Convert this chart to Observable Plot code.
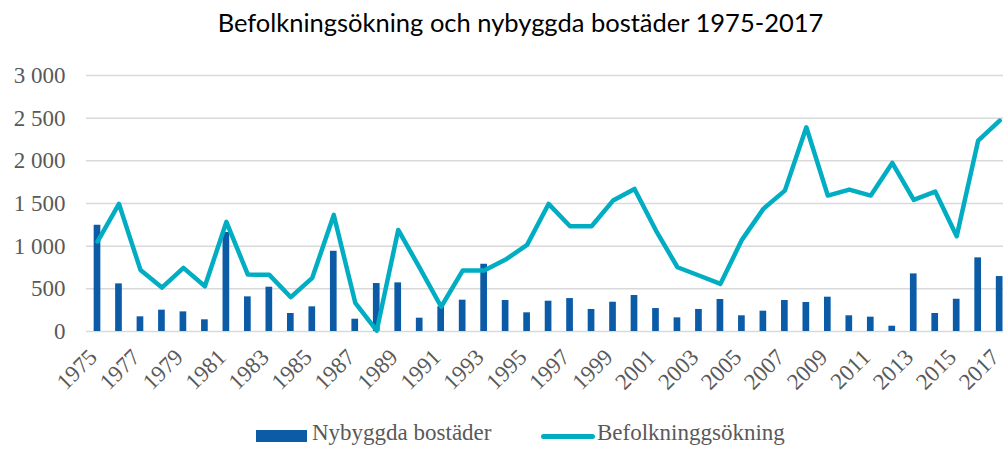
<!DOCTYPE html>
<html>
<head>
<meta charset="utf-8">
<script src="https://cdn.jsdelivr.net/npm/d3@7"></script>
<script src="https://cdn.jsdelivr.net/npm/@observablehq/plot@0.6"></script>
<style>
  body { margin: 0; background: #fff; width: 1003px; height: 449px; overflow: hidden; }
  #title { position: relative; height: 45px; }
  #title span { position: absolute; left: 38px; right: 0; top: 7px; text-align: center;
    font-family: Lato, "Open Sans", sans-serif; font-size: 25.5px; color: #000; white-space: nowrap; }
  #legend { position: relative; height: 49px; font-family: "Liberation Serif", "DejaVu Serif", serif;
    font-size: 23px; color: #595959; }
  #legend .sw1 { position: absolute; left: 256px; top: 30px; width: 51px; height: 12px; background: #0b5ba7; }
  #legend .sw2 { position: absolute; left: 541px; top: 34px; width: 54px; height: 5px; border-radius: 3px; background: #00adc2; }
  #legend .t1 { position: absolute; left: 312px; top: 20px; white-space: nowrap; }
  #legend .t2 { position: absolute; left: 597px; top: 20px; white-space: nowrap; }
</style>
</head>
<body>
<div id="title"><span>Befolkningsökning och nybyggda bostäder 1975-2017</span></div>
<div id="chart"></div>
<div id="legend">
  <div class="sw1"></div><div class="t1">Nybyggda bostäder</div>
  <div class="sw2"></div><div class="t2">Befolkninggsökning</div>
</div>
<script>
const years = d3.range(1975, 2018);
const nybyggda = [1245, 558, 172, 250, 230, 137, 1160, 406, 519, 211, 289, 940, 144, 562, 570,
  156, 290, 367, 788, 363, 219, 355, 386, 258, 343, 422, 269, 160, 258, 375,
  184, 238, 363, 340, 402, 184, 168, 62, 675, 211, 378, 863, 644];
const befolkning = [1054, 1495, 722, 515, 746, 530, 1284, 667, 664, 402, 629, 1366, 336, 10, 1190,
  746, 290, 714, 714, 843, 1015, 1495, 1233, 1233, 1534, 1671, 1183, 753, 656, 558,
  1074, 1437, 1651, 2393, 1593, 1663, 1593, 1975, 1542, 1640, 1116, 2237, 2471];
const yTicks = [0, 500, 1000, 1500, 2000, 2500, 3000];
const xLabels = years.filter(y => (y - 1975) % 2 === 0);

const data = years.map((y, i) => ({year: y, bost: nybyggda[i], bef: befolkning[i]}));
const fmt = d => d3.format(",")(d).replace(/,/g, "\u00a0");
const serif = "'Liberation Serif', 'DejaVu Serif', serif";

const chart = Plot.plot({
  width: 1003,
  height: 355,
  marginTop: 30,
  marginBottom: 69,
  marginLeft: 86,
  marginRight: 0,
  style: {fontFamily: serif, background: "#fff", overflow: "hidden"},
  x: {type: "band", domain: years, range: [86.26, 1009.9], padding: 0, round: false, axis: null},
  y: {domain: [0, 3000], axis: null},
  marks: [
    Plot.gridY(yTicks, {stroke: "#d9d9d9", strokeOpacity: 1, strokeWidth: 1.5}),
    Plot.axisY(yTicks, {tickSize: 0, tickPadding: 21, tickFormat: fmt, fontSize: 23, fill: "#595959", fontFamily: serif}),
    Plot.barY(data, {x: "year", y: "bost", fill: "#0b5ba7", insetLeft: 7.4, insetRight: 7.4}),
    Plot.line(data, {x: "year", y: "bef", stroke: "#00adc2", strokeWidth: 4.5, strokeLinejoin: "round", strokeLinecap: "round"}),
    Plot.text(xLabels, {x: d => d, frameAnchor: "bottom", text: d => String(d), rotate: -45, textAnchor: "end",
      dx: 1, dy: 27, fontSize: 23, fill: "#595959", fontFamily: serif})
  ]
});
document.getElementById("chart").appendChild(chart);
</script>
</body>
</html>
